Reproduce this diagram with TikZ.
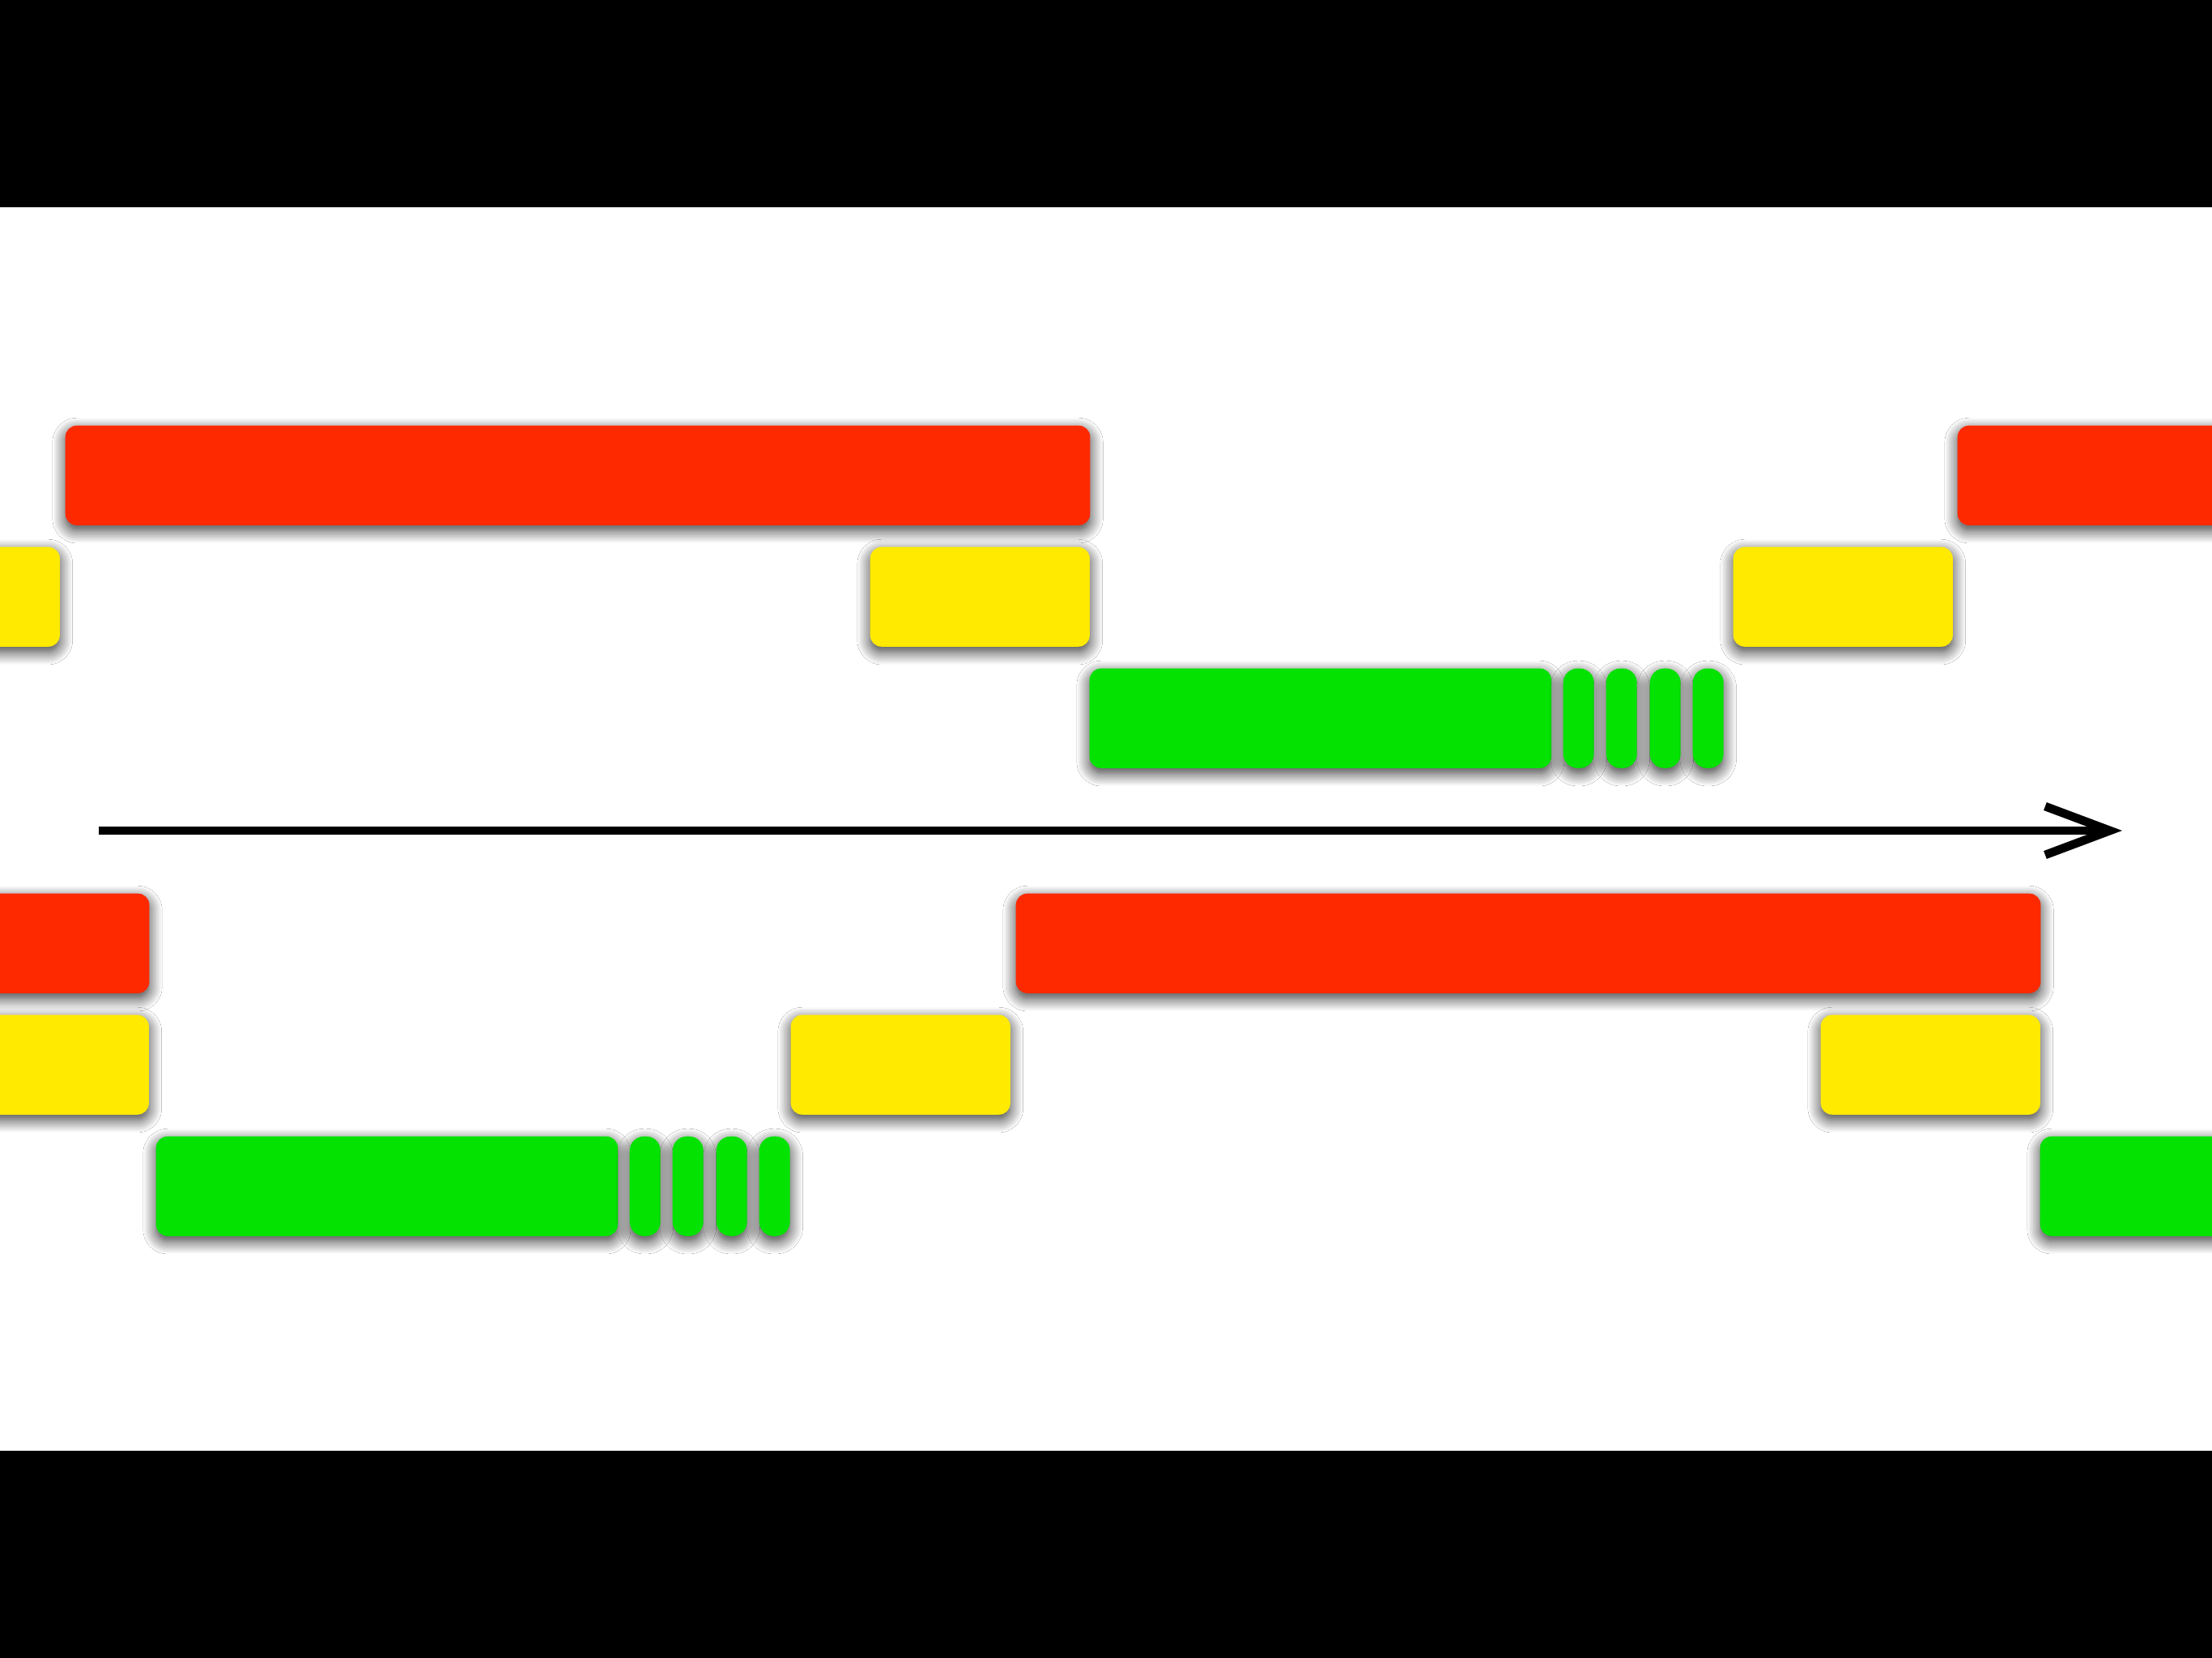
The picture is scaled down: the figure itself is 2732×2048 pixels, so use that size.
\documentclass[tikz,border=0pt]{standalone}
\usetikzlibrary{arrows.meta}
\IfFileExists{tikzlibraryshadows.blur.code.tex}
  {\usetikzlibrary{shadows.blur}
   \tikzset{barshadow/.style={blur shadow={shadow xshift=0pt, shadow yshift=-1.8pt,
     shadow blur radius=4.5pt, shadow blur steps=12, shadow opacity=80}}}}
  {\usetikzlibrary{shadows}
   \tikzset{barshadow/.style={drop shadow={shadow xshift=0pt, shadow yshift=-1.8pt,
     opacity=0.45, fill=black}}}}

\definecolor{barred}{RGB}{255,41,0}
\definecolor{baryellow}{RGB}{255,234,0}
\definecolor{bargreen}{RGB}{3,226,0}

\begin{document}
\begin{tikzpicture}[x=0.01cm, y=-0.01cm,
  bar/.style={rounded corners=4pt, inner sep=0pt, anchor=north west, minimum height=1.23cm, barshadow},
  long/.style={bar, fill=barred, minimum width=12.65cm},
  short/.style={bar, fill=baryellow, minimum width=2.71cm},
  run/.style={bar, fill=bargreen, minimum width=5.70cm},
  tick/.style={bar, fill=bargreen, minimum width=0.38cm, rounded corners=5pt},
  >={Straight Barb[length=0.8cm, width=0.6cm]}
]
\useasboundingbox (0,0) rectangle (2732,2048);
\fill[black] (0,0) rectangle (2732,2048);
\fill[white] (0,256) rectangle (2732,1792);

\begin{scope}
\clip (0,256) rectangle (2732,1792);

% upper lane
\node[long]  (redA) at (80,525)   {};
\node[long]  (redB) at (2417,525) {};
\node[short] (yelA) at (-198,675) {};
\node[short] (yelB) at (1074,675) {};
\node[short] (yelC) at (2140,675) {};
\node[run]   (grnA) at (1345,825) {};
\foreach \i/\x in {1/1930,2/1983,3/2037,4/2090}
  \node[tick] (tickA\i) at (\x,825) {};

% lower lane
\node[long]  (redC) at (-1082,1103) {};
\node[long]  (redD) at (1254,1103)  {};
\node[short] (yelD) at (-88,1253)   {};
\node[short] (yelE) at (976,1253)   {};
\node[short] (yelF) at (2248,1253)  {};
\node[run]   (grnB) at (192,1403)   {};
\node[run]   (grnC) at (2519,1403)  {};
\foreach \i/\x in {1/777,2/830,3/884,4/937}
  \node[tick] (tickB\i) at (\x,1403) {};
\end{scope}

% time axis
\coordinate (axstart) at (122,1026);
\coordinate (axend) at (2621,1026);
\draw[->, line width=3pt] (axstart) -- (axend);
\end{tikzpicture}
\end{document}
